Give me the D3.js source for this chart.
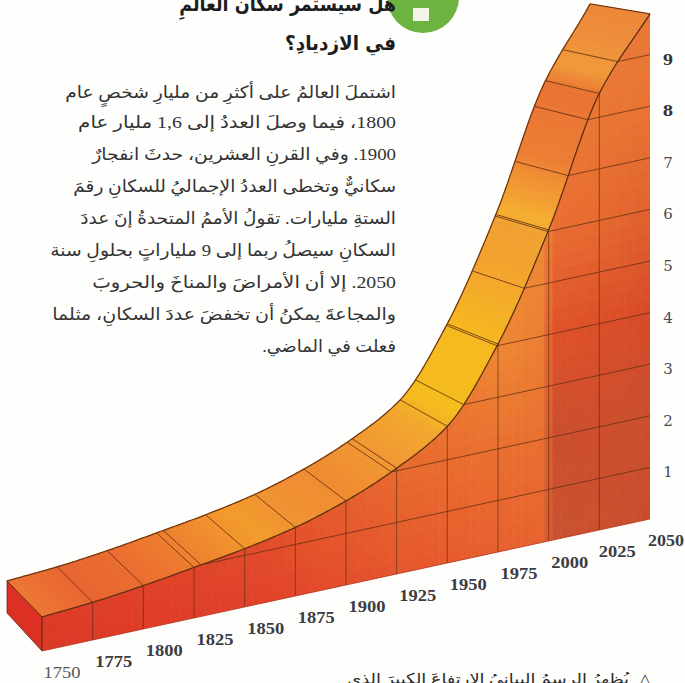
<!DOCTYPE html>
<html lang="ar">
<head>
<meta charset="utf-8">
<script src="https://cdn.jsdelivr.net/npm/d3@7"></script>
<style>
html,body{margin:0;padding:0;background:#fefefc;overflow:hidden}
svg{display:block}
</style>
</head>
<body>
<svg id="c" width="685" height="683"></svg>
<script>
// ---------- data ----------
const years = [1750,1775,1800,1825,1850,1875,1900,1925,1950,1975,2000,2025,2050];
const population = [0.66,0.73,0.84,0.98,1.13,1.33,1.63,2.05,2.65,4.03,6.03,8.46,9.79];
const valueTicks = [1,2,3,4,5,6,7,8,9];
const titleLines = ["هل سيستمر سكان العالمِ","في الازديادِ؟"];
const bodyLines = [
 "اشتملَ العالمُ على أكثرِ من مليارِ شخصٍ عام",
 "1800، فيما وصلَ العددُ إلى 1,6 مليار عام",
 "1900. وفي القرنِ العشرين، حدثَ انفجارٌ",
 "سكانيٌّ وتخطى العددُ الإجماليُ للسكانِ رقمَ",
 "الستةِ مليارات. تقولُ الأممُ المتحدةُ إنَ عددَ",
 "السكانِ سيصلُ ربما إلى 9 ملياراتٍ بحلولِ سنة",
 "2050. إلا أن الأمراضَ والمناخَ والحروبَ",
 "والمجاعةَ يمكنُ أن تخفضَ عددَ السكانِ، مثلما",
 "فعلت في الماضي."
];
const captionLine = "يُظهرُ الرسمُ البيانيُ الارتفاعَ الكبيرَ الذي";

// ---------- layout / style ----------
const bodyWidths = [331,318,304,323,316,346,304,344,134];
const titleWidths = [217,111];
const lineColor = "#5f2d12";
const svg = d3.select("#c");

const x = d3.scaleLinear([1750,2050],[42,650]);
const base = d3.scaleLinear([1750,2050],[651,519]);
const h = d3.scaleLinear([0,10],[0,516]);
// depth of the slab (offset of the back edge from the front edge), per year
const depthYears = [1750,1800,1850,1900,1950,1975,2000,2035,2050];
const depthDxRaw = d3.scaleLinear(depthYears,[-35,-36,-39,-42,-47,-51,-53,-54,-60]);
const depthDyRaw = d3.scaleLinear(depthYears,[-36,-35,-34,-32,-27,-20,-15,-12,-10]);
const smooth = s => t => d3.mean(d3.range(-12,12.1,3),o=>s(t+o));
const depthDx = smooth(depthDxRaw), depthDy = smooth(depthDyRaw);

// smooth reading of the population curve between the data years (harmonic tangents)
function pop(t){
  const n = years.length, i = Math.min(n-2, Math.max(0, d3.bisectRight(years,t)-1));
  const sl = k => (population[k+1]-population[k])/25;
  const m = k => k<=0 ? sl(0) : k>=n-1 ? sl(n-2) : 2*sl(k-1)*sl(k)/(sl(k-1)+sl(k));
  const d = years[i+1]-years[i], s = (t-years[i])/d, s2=s*s, s3=s2*s;
  return (2*s3-3*s2+1)*population[i] + (s3-2*s2+s)*d*m(i)
       + (-2*s3+3*s2)*population[i+1] + (s3-s2)*d*m(i+1);
}
const front = t => [x(t), base(t)-h(pop(t))];
const back  = t => { const f=front(t); return [f[0]+depthDx(t), f[1]+depthDy(t)]; };
const crossing = v => { let a=1750,b=2050; for(let i=0;i<40;i++){const c=(a+b)/2; if(pop(c)<v)a=c; else b=c;} return a; };
const gridY = (t,v) => base(t)-h(v);
const fine = d3.range(1750,2050.01,1);
const line = d3.line();
const poly = pts => line(pts)+"Z";

// ---------- front face colour mesh ----------
const meshYears = [1750,1850,1925,1975,1999,2001,2025,2050];
const meshValues = [0,2,4,6,8,10];
const meshColors = [
 ["#dc3826","#e0402a","#e5552c","#e8602e","#e8622e","#c9512f","#cb5030","#c94c2e"],
 ["#e04028","#e4502a","#e86a2e","#e97030","#e87030","#cb4f2d","#cc4e2d","#c8502e"],
 ["#e04028","#e4502a","#ea722e","#ee8834","#ec7c32","#df5229","#db4f29","#d64a28"],
 ["#e04028","#e4502a","#ea722e","#ee8834","#ef8a36","#e96e32","#e66a30","#e0622e"],
 ["#e04028","#e4502a","#ea722e","#ee8834","#ee8836","#ec7a36","#e97634","#e87434"],
 ["#e04028","#e4502a","#ea722e","#ee8834","#ee8836","#eb7c38","#eb7c38","#ea7a38"]
];
const rowColor = meshColors.map(r => d3.scaleLinear(meshYears,r).interpolate(d3.interpolateRgb));
const valueIdx = d3.scaleLinear(meshValues,d3.range(meshValues.length));
function meshColor(t,v){
  const f = valueIdx(v), i = Math.min(meshValues.length-2,Math.floor(f));
  return d3.interpolateRgb(rowColor[i](t),rowColor[i+1](t))(f-i);
}
const defs = svg.append("defs");
const frontOutline = fine.map(front).concat([[x(2050),base(2050)],[x(1750),base(1750)]]);
defs.append("clipPath").attr("id","frontClip").append("path").attr("d",poly(frontOutline));

const frontG = svg.append("g").attr("clip-path","url(#frontClip)");
const cells = [];
d3.range(1750,2050,4).forEach(t=>d3.range(0,10,0.25).forEach(v=>{ if(v<=pop(Math.min(2050,t+4))) cells.push({t,v}); }));
frontG.selectAll("path").data(cells).join("path")
  .attr("d",d=>poly([[x(d.t),gridY(d.t,d.v)],[x(d.t+4),gridY(d.t+4,d.v)],[x(d.t+4),gridY(d.t+4,d.v+0.25)],[x(d.t),gridY(d.t,d.v+0.25)]]))
  .attr("fill",d=>meshColor(d.t+2,d.v+0.125))
  .attr("stroke",d=>meshColor(d.t+2,d.v+0.125)).attr("stroke-width",0.7);

// ---------- left end face ----------
svg.append("path")
  .attr("d",poly([back(1750),front(1750),[x(1750),base(1750)],[x(1750)+depthDx(1750),base(1750)+depthDy(1750)+(-2)]]))
  .attr("fill","#dd3024").attr("stroke",lineColor).attr("stroke-width",0.8);

// ---------- top surface ----------
const topYears = [1750,1758,1775,1800,1815,1835,1860,1880,1905,1925,1945,1955,1975,1990,1999,2001,2012,2024,2030,2040,2050];
const topCols = ["#ec7430","#ec7030","#e8622c","#e96a2c","#ec742c","#ef842c","#f29a28","#f09030","#ef8a2e","#f19630","#f2a62c","#f5bc1c","#f6b81f","#f3a42c","#f0a032","#f5b030","#ec7c34","#e97232","#f09a38","#ee8c3a","#ec8636"];
const topColor = d3.scaleLinear(topYears,topCols).interpolate(d3.interpolateRgb);
svg.append("g").selectAll("path").data(d3.range(1750,2050,1)).join("path")
  .attr("d",t=>poly([front(t),front(t+1),back(t+1),back(t)]))
  .attr("fill",t=>topColor(t+.5)).attr("stroke",t=>topColor(t+.5)).attr("stroke-width",0.7);

// ---------- grid on the front face ----------
const grid = svg.append("g").attr("fill","none").attr("stroke",lineColor);
grid.selectAll(".v").data(years).join("line").attr("class","v")
  .attr("x1",d=>x(d)).attr("x2",d=>x(d)).attr("y1",d=>base(d)).attr("y2",d=>front(d)[1])
  .attr("stroke-width",d=>d===2050?0:0.9).attr("stroke-opacity",0.75);
grid.selectAll(".h").data(valueTicks).join("line").attr("class","h")
  .attr("x1",d=>x(crossing(d))).attr("y1",d=>gridY(crossing(d),d))
  .attr("x2",x(2050)).attr("y2",d=>gridY(2050,d))
  .attr("stroke-width",0.9).attr("stroke-opacity",0.85);

// ---------- transverse lines on the top surface (years + integer crossings) ----------
const ridgeYears = years.slice(1,-1).concat(valueTicks.map(crossing));
grid.selectAll(".r").data(ridgeYears).join("line").attr("class","r")
  .attr("x1",d=>front(d)[0]).attr("y1",d=>front(d)[1])
  .attr("x2",d=>back(d)[0]).attr("y2",d=>back(d)[1])
  .attr("stroke-width",0.9).attr("stroke-opacity",0.9);

// ---------- edges ----------
svg.append("path").attr("d",line(fine.map(front))).attr("fill","none").attr("stroke",lineColor).attr("stroke-width",1.3);
svg.append("path").attr("d",line(fine.map(back))).attr("fill","none").attr("stroke","#74380f").attr("stroke-width",1.3);
svg.append("path").attr("d",line([back(2050),front(2050)])).attr("fill","none").attr("stroke",lineColor).attr("stroke-width",1);
svg.append("path").attr("d",line([back(1750),front(1750)])).attr("fill","none").attr("stroke",lineColor).attr("stroke-width",1);
svg.append("path").attr("d",line([[x(1750),base(1750)],[x(2050),base(2050)]])).attr("fill","none").attr("stroke","#b5341f").attr("stroke-width",0.8);

// ---------- axis labels ----------
const serif = "'DejaVu Serif','Liberation Serif',serif";
svg.append("g").selectAll("text").data(valueTicks).join("text")
  .attr("x",668).attr("y",d=>gridY(2050,d)+10)
  .attr("text-anchor","middle").attr("font-family",serif).attr("font-size",15)
  .attr("font-weight",d=>d>=8?"bold":"normal").attr("fill",d=>d>=8?"#333338":"#4a4a50")
  .text(d=>d);
svg.append("g").selectAll("text").data(years).join("text")
  .attr("x",d=>x(d)+(d===1750?20:d===2050?16:d===2025?18:21)).attr("y",d=>base(d)+27)
  .attr("text-anchor","middle").attr("font-family","'Liberation Serif',serif").attr("font-size",16.5)
  .attr("font-weight",d=>d===1750?"normal":"bold").attr("fill",d=>d===1750?"#55555a":"#3c3c44")
  .attr("textLength",d=>d===2050?36:37).attr("lengthAdjust","spacingAndGlyphs")
  .text(d=>d);

// ---------- green badge ----------
svg.append("circle").attr("cx",423).attr("cy",-3).attr("r",36).attr("fill","#6db33f");
svg.append("rect").attr("x",413).attr("y",8).attr("width",16).attr("height",13).attr("fill","#f1f4e6");

// ---------- Arabic text ----------
function fit(sel,target,right,yv){
  sel.attr("direction","rtl").attr("text-anchor","start").attr("x",0).attr("y",0)
     .attr("transform",function(d,i){
        const k = target[i]/this.getComputedTextLength();
        return `translate(${right},${yv[i]}) scale(${k},1)`;
     });
}
const arabic = "'Liberation Serif','DejaVu Sans',sans-serif";
svg.append("g").selectAll("text").data(titleLines).join("text")
  .attr("font-family","'DejaVu Sans',sans-serif").attr("font-weight","bold").attr("font-size",20).attr("fill","#1d1d1f")
  .text(d=>d).call(fit,titleWidths,396,[11,50]);
svg.append("g").selectAll("text").data(bodyLines).join("text")
  .attr("font-family",arabic).attr("font-size",17).attr("fill","#333335")
  .text(d=>d).call(fit,bodyWidths,396,[98,128,160,192,224,256,288,320,352]);
svg.append("text").datum(captionLine)
  .attr("font-family",arabic).attr("font-size",15).attr("fill","#2c2c2e")
  .text(d=>d).call(fit,[282],629,[684]);
svg.append("text").attr("x",645).attr("y",684).attr("text-anchor","middle")
  .attr("font-family","'DejaVu Sans',sans-serif").attr("font-size",15).attr("fill","#333").text("△");
</script>
</body>
</html>
